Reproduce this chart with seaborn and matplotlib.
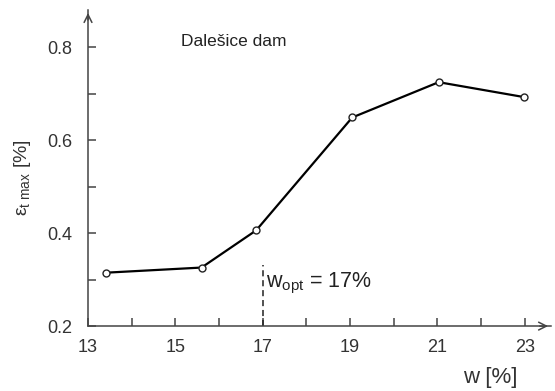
import matplotlib
matplotlib.use("Agg")
import matplotlib.pyplot as plt
import seaborn as sns
import pandas as pd

# Moisture content w [%] and maximum tensile strain [%]
w_values = [13.42, 15.6, 16.85, 19.05, 21.03, 22.98]
eps_tmax = [0.315, 0.326, 0.406, 0.649, 0.725, 0.693]
w_opt = 17.0
w_opt_top = 0.331

x_major = [13, 15, 17, 19, 21, 23]
x_ticks = [13, 14, 15, 16, 17, 18, 19, 20, 21, 22, 23]
y_major = [0.2, 0.4, 0.6, 0.8]
y_ticks = [0.2, 0.3, 0.4, 0.5, 0.6, 0.7, 0.8]

sns.set_style("white")
plt.rcParams["font.family"] = ["Liberation Sans", "DejaVu Sans"]
plt.rcParams["mathtext.fontset"] = "custom"
plt.rcParams["mathtext.rm"] = "Liberation Sans"
plt.rcParams["mathtext.it"] = "Liberation Sans"

df = pd.DataFrame({"w": w_values, "eps": eps_tmax})

fig = plt.figure(figsize=(5.55, 3.91), dpi=100)
ax = fig.add_axes([0.1586, 0.166, 0.834, 0.808])

axis_col = "#444444"
text_col = "#333333"

sns.lineplot(data=df, x="w", y="eps", ax=ax, color="black", linewidth=1.6,
             marker="o", markersize=5, markerfacecolor="white",
             markeredgecolor="#222222", markeredgewidth=1.0, zorder=3)

ax.plot([w_opt, w_opt], [0.2, w_opt_top], color="#222222", lw=1.1,
        linestyle=(0, (4, 2.5)), zorder=2)

ax.set_xlim(13, 23.6)
ax.set_ylim(0.2, 0.88)

ax.set_xticks(x_ticks)
ax.set_xticklabels([str(t) if t in x_major else "" for t in x_ticks])
ax.set_yticks(y_ticks)
ax.set_yticklabels([f"{t:.1f}" if any(abs(t - m) < 1e-9 for m in y_major) else ""
                    for t in y_ticks])
ax.tick_params(axis="both", direction="in", length=6, width=1.1, color=axis_col,
               labelsize=13, labelcolor=text_col, bottom=True, left=True)
ax.tick_params(axis="x", pad=9)
ax.tick_params(axis="y", pad=11)

for side in ["top", "right"]:
    ax.spines[side].set_visible(False)
for side in ["left", "bottom"]:
    ax.spines[side].set_color(axis_col)
    ax.spines[side].set_linewidth(1.1)

# Arrow heads at the ends of both axes
ax.annotate("", xy=(1.0, 0), xycoords="axes fraction", xytext=(0.97, 0),
            arrowprops=dict(arrowstyle="->", color=axis_col, lw=1.1,
                            mutation_scale=14), clip_on=False)
ax.annotate("", xy=(0, 1.0), xycoords="axes fraction", xytext=(0, 0.96),
            arrowprops=dict(arrowstyle="->", color=axis_col, lw=1.1,
                            mutation_scale=14), clip_on=False)

ax.set_xlabel("")
ax.set_ylabel("")
fig.text(0.04, 0.545, "ε$_{\\rm t\\ max}$ [%]", rotation=90, ha="center",
         va="center", fontsize=14, color=text_col)
fig.text(0.883, 0.035, "w [%]", ha="center", va="center", fontsize=16,
         color=text_col)

ax.text(15.13, 0.813, "Dalešice dam", fontsize=12.5, color="#222222",
        ha="left", va="center")
ax.text(17.08, 0.292, "w$_{\\rm opt}$ = 17%", fontsize=15.5, color="#222222",
        ha="left", va="center")

fig.savefig("out.png", dpi=100)
